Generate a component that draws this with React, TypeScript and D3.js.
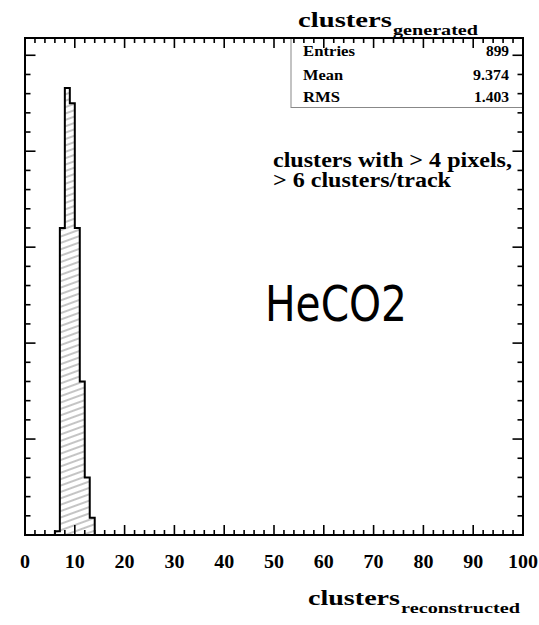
import React from "react";
import * as d3 from "d3";

// Data
const binStarts = [6, 7, 8, 9, 10, 11, 12, 13];
const binWidth = 1;
const counts = [2, 160, 233, 225, 160, 80, 30, 9];
const xTickLabels = ["0", "10", "20", "30", "40", "50", "60", "70", "80", "90", "100"];
const statsNames = ["Entries", "Mean", "RMS"];
const statsValues = ["899", "9.374", "1.403"];

const W = 539;
const H = 625;
const X0 = 25, X1 = 523, Y0 = 38, Y1 = 535;
const serif = "'Liberation Serif', 'Times New Roman', serif";

export default function App() {
  const x = d3.scaleLinear().domain([0, 100]).range([X0, X1]);
  const y = d3.scaleLinear().domain([0, 259]).range([Y1, Y0]);

  // step path
  const pts: [number, number][] = [];
  pts.push([x(binStarts[0]), y(0)]);
  binStarts.forEach((b, i) => {
    pts.push([x(b), y(counts[i])]);
    pts.push([x(b + binWidth), y(counts[i])]);
  });
  pts.push([x(binStarts[binStarts.length - 1] + binWidth), y(0)]);
  const line = d3.line();
  const histPath = line(pts) as string;

  const xMinor = d3.range(0, 101, 2);
  const xMajor = d3.range(0, 101, 10);
  const yMinor = d3.range(0, 259, 10);

  const tickStroke = { stroke: "#000", strokeWidth: 1.6 };
  const rowY = [56, 80, 101.5];
  const valW = [23, 36, 35];

  return (
    <svg width={W} height={H} style={{ position: "absolute", left: 0, top: 0, background: "#fff" }}>
      <defs>
        <pattern id="hatch" patternUnits="userSpaceOnUse" width={8} height={6} patternTransform="rotate(-20)">
          <path d="M0,3 H8" stroke="#8a8a8a" strokeWidth={1} />
        </pattern>
      </defs>
      <rect x={0} y={0} width={W} height={H} fill="#fff" />

      {/* histogram */}
      <path d={histPath} fill="url(#hatch)" stroke="none" />
      <path d={histPath} fill="none" stroke="#000" strokeWidth={2} />

      {/* stats box */}
      <rect x={291} y={Y0} width={X1 - 291} height={107.5 - Y0} fill="#fff" stroke="#888" strokeWidth={1} />
      {statsNames.map((n, i) => (
        <text key={n} x={303} y={rowY[i]} fontFamily={serif} fontWeight="bold" fontSize={14}
          textLength={[52, 40, 37][i]} lengthAdjust="spacingAndGlyphs">{n}</text>
      ))}
      {statsValues.map((v, i) => (
        <text key={v} x={509 - valW[i]} y={rowY[i]} fontFamily={serif} fontWeight="bold" fontSize={14}
          textLength={valW[i]} lengthAdjust="spacingAndGlyphs">{v}</text>
      ))}

      {/* ticks */}
      {xMinor.map((t) => {
        const len = t % 10 === 0 ? 10 : 5;
        return (
          <g key={"xt" + t}>
            <line x1={x(t)} x2={x(t)} y1={Y1} y2={Y1 - len} {...tickStroke} />
            <line x1={x(t)} x2={x(t)} y1={Y0} y2={Y0 + len} {...tickStroke} />
          </g>
        );
      })}
      {yMinor.map((t) => {
        const len = t % 50 === 0 ? 10.5 : 5.5;
        return (
          <g key={"yt" + t}>
            <line x1={X0} x2={X0 + len} y1={y(t)} y2={y(t)} {...tickStroke} />
            <line x1={X1} x2={X1 - len} y1={y(t)} y2={y(t)} {...tickStroke} />
          </g>
        );
      })}

      {/* frame */}
      <rect x={X0} y={Y0} width={X1 - X0} height={Y1 - Y0} fill="none" stroke="#000" strokeWidth={2} />

      {/* x tick labels */}
      {xMajor.map((t, i) => (
        <text key={"xl" + t} x={x(t)} y={568} textAnchor="middle" fontFamily={serif} fontWeight="bold"
          fontSize={18} textLength={xTickLabels[i].length * 10} lengthAdjust="spacingAndGlyphs">{xTickLabels[i]}</text>
      ))}

      {/* title */}
      <text x={298} y={27} fontFamily={serif} fontWeight="bold" fontSize={21} textLength={94}
        lengthAdjust="spacingAndGlyphs">clusters</text>
      <text x={393} y={35} fontFamily={serif} fontWeight="bold" fontSize={15} textLength={85}
        lengthAdjust="spacingAndGlyphs">generated</text>

      {/* x label */}
      <text x={308} y={605} fontFamily={serif} fontWeight="bold" fontSize={21} textLength={92}
        lengthAdjust="spacingAndGlyphs">clusters</text>
      <text x={401} y={613} fontFamily={serif} fontWeight="bold" fontSize={15} textLength={119}
        lengthAdjust="spacingAndGlyphs">reconstructed</text>

      {/* annotations */}
      <text x={273} y={167} fontFamily={serif} fontWeight="bold" fontSize={20} textLength={239}
        lengthAdjust="spacingAndGlyphs">clusters with &gt; 4 pixels,</text>
      <text x={273} y={187} fontFamily={serif} fontWeight="bold" fontSize={20} textLength={178}
        lengthAdjust="spacingAndGlyphs">&gt; 6 clusters/track</text>

      <text x={265} y={321} fontFamily="'Comic Sans MS', 'DejaVu Sans', sans-serif" fontSize={50}
        textLength={142} lengthAdjust="spacingAndGlyphs">HeCO2</text>
    </svg>
  );
}
